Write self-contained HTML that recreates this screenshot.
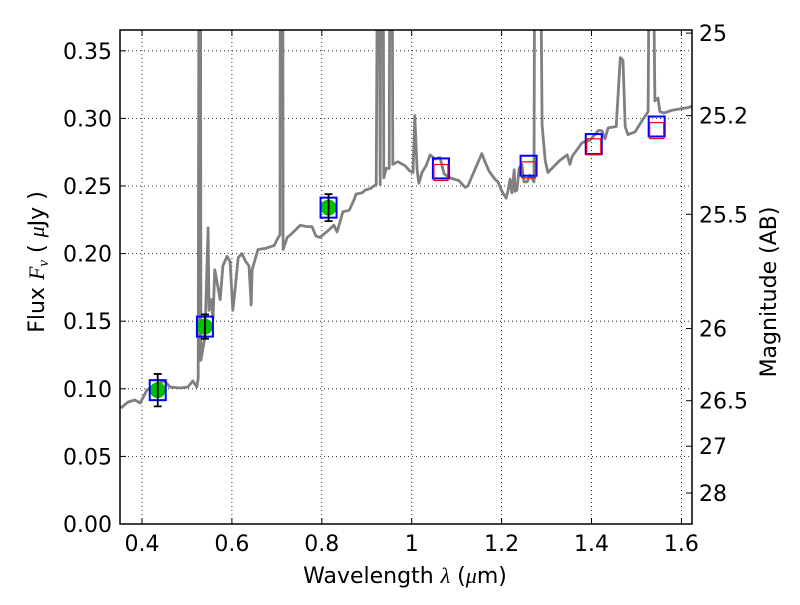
<!DOCTYPE html>
<html><head><meta charset="utf-8"><style>
html,body{margin:0;padding:0;background:#fff;}
svg text{font-family:"DejaVu Sans","Liberation Sans",sans-serif;fill:#000;}
</style></head><body>
<svg id="chart" width="800" height="600" viewBox="0 0 800 600" xmlns="http://www.w3.org/2000/svg">
<defs><clipPath id="clip"><rect x="120" y="30" width="572" height="494"/></clipPath></defs>
<rect x="0" y="0" width="800" height="600" fill="#fff"/>
<g id="grid"></g>
<g id="plot" clip-path="url(#clip)"></g>
<rect x="120" y="30" width="572" height="494" fill="none" stroke="#000" stroke-width="1.5"/>
<g id="axes"></g>
<text x="405" y="583" font-size="22" text-anchor="middle">Wavelength  <tspan font-style="italic" font-family="Liberation Serif,serif">λ</tspan> (<tspan font-style="italic" font-family="Liberation Serif,serif">μ</tspan>m)</text>
<text transform="translate(44,262) rotate(-90)" font-size="22" text-anchor="middle">Flux  <tspan font-style="italic" font-family="Liberation Serif,serif">F<tspan font-size="15" dy="4">ν</tspan></tspan><tspan dy="-4">   (  </tspan><tspan font-style="italic" font-family="Liberation Serif,serif">μ</tspan>Jy )</text>
<text transform="translate(776,292) rotate(-90)" font-size="22" text-anchor="middle">Magnitude (AB)</text>
</svg>
<script>
const specWave=[0.353,0.369,0.384,0.396,0.411,0.433,0.451,0.462,0.485,0.502,0.513,0.522,0.525,0.527,0.530,0.531,0.540,0.547,0.549,0.554,0.558,0.562,0.574,0.580,0.589,0.596,0.602,0.607,0.614,0.622,0.631,0.638,0.643,0.645,0.658,0.676,0.694,0.700,0.707,0.708,0.713,0.714,0.723,0.734,0.752,0.767,0.778,0.787,0.796,0.814,0.827,0.834,0.847,0.861,0.872,0.876,0.890,0.896,0.907,0.921,0.925,0.927,0.930,0.932,0.936,0.938,0.943,0.950,0.952,0.956,0.958,0.969,0.985,0.996,1.003,1.007,1.012,1.016,1.023,1.032,1.041,1.052,1.063,1.072,1.085,1.105,1.119,1.125,1.134,1.143,1.156,1.163,1.172,1.185,1.192,1.201,1.210,1.214,1.219,1.223,1.228,1.230,1.234,1.239,1.245,1.250,1.257,1.263,1.272,1.274,1.285,1.290,1.297,1.303,1.312,1.330,1.346,1.352,1.357,1.379,1.397,1.415,1.423,1.430,1.437,1.455,1.464,1.470,1.475,1.481,1.497,1.510,1.526,1.530,1.535,1.541,1.548,1.552,1.561,1.579,1.597,1.615,1.624];
const specFlux=[0.0858,0.0902,0.0917,0.0895,0.0991,0.1036,0.1058,0.1013,0.1006,0.1013,0.1058,0.1013,0.108,0.5,0.5,0.121,0.138,0.219,0.158,0.166,0.152,0.188,0.166,0.191,0.198,0.194,0.158,0.173,0.197,0.200,0.194,0.191,0.162,0.188,0.203,0.204,0.206,0.210,0.214,0.5,0.5,0.203,0.212,0.215,0.221,0.220,0.220,0.213,0.212,0.217,0.221,0.216,0.231,0.232,0.240,0.244,0.245,0.247,0.248,0.251,0.5,0.5,0.251,0.5,0.5,0.256,0.263,0.263,0.5,0.5,0.266,0.268,0.265,0.261,0.260,0.302,0.262,0.252,0.260,0.265,0.273,0.270,0.271,0.259,0.256,0.254,0.249,0.250,0.257,0.264,0.274,0.268,0.261,0.255,0.253,0.246,0.241,0.246,0.255,0.245,0.262,0.246,0.247,0.263,0.266,0.253,0.253,0.258,0.253,0.5,0.5,0.295,0.269,0.260,0.263,0.269,0.273,0.266,0.272,0.282,0.284,0.291,0.291,0.285,0.293,0.294,0.345,0.343,0.294,0.288,0.290,0.297,0.305,0.5,0.5,0.313,0.315,0.305,0.304,0.306,0.307,0.308,0.309];
const photWave=[0.435,0.54,0.815];
const photFlux=[0.099,0.146,0.234];
const photErr=[0.012,0.009,0.010];
const modelWave=[0.435,0.54,0.815,1.065,1.26,1.405,1.545];
const modelFlux=[0.099,0.146,0.234,0.263,0.265,0.281,0.294];
const redWave=[1.065,1.26,1.405,1.545];
const redFlux=[0.260,0.262,0.279,0.291];
const xTicks=[0.4,0.6,0.8,1,1.2,1.4,1.6];
const xTickLabels=['0.4','0.6','0.8','1','1.2','1.4','1.6'];
const yTicks=[0,0.05,0.1,0.15,0.2,0.25,0.3,0.35];
const yTickLabels=['0.00','0.05','0.10','0.15','0.20','0.25','0.30','0.35'];
const magTicks=[25,25.2,25.5,26,26.5,27,28];
const magTickLabels=['25','25.2','25.5','26','26.5','27','28'];

const NS='http://www.w3.org/2000/svg';
const X=v=>142+(v-0.4)*449.5;
const Y=f=>524-f*1352;
function mk(tag,attrs,parent){const e=document.createElementNS(NS,tag);for(const k in attrs)e.setAttribute(k,attrs[k]);parent.appendChild(e);return e;}
const grid=document.getElementById('grid'),plot=document.getElementById('plot'),axes=document.getElementById('axes');

xTicks.forEach((t,i)=>{
  const x=X(t);
  const g=mk('line',{x1:x,x2:x,y1:30,y2:524,stroke:'#000','stroke-width':0.8,'stroke-dasharray':'1,3'},grid);
  
  
  mk('line',{x1:x,x2:x,y1:524,y2:518,stroke:'#000'},axes);
  mk('line',{x1:x,x2:x,y1:30,y2:36,stroke:'#000'},axes);
  const l=mk('text',{x:x,y:551,'font-size':22,'text-anchor':'middle'},axes);
  l.textContent=xTickLabels[i];
  
  
});
yTicks.forEach((t,i)=>{
  const y=Y(t);
  if(t>0){const g=mk('line',{x1:120,x2:692,y1:y,y2:y,stroke:'#000','stroke-width':0.8,'stroke-dasharray':'1,3'},grid);
  
  }
  mk('line',{x1:120,x2:126,y1:y,y2:y,stroke:'#000'},axes);
  const l=mk('text',{x:112,y:y+8,'font-size':22,'text-anchor':'end'},axes);
  l.textContent=yTickLabels[i];
  
  
});
magTicks.forEach((m,i)=>{
  const y=Y(Math.pow(10,(23.9-m)/2.5));
  mk('line',{x1:692,x2:686,y1:y,y2:y,stroke:'#000'},axes);
  const l=mk('text',{x:699,y:y+8,'font-size':22,'text-anchor':'start'},axes);
  l.textContent=magTickLabels[i];
  
  
});
const pts=specWave.map((w,i)=>X(w).toFixed(1)+','+Y(specFlux[i]).toFixed(1)).join(' ');
const sp=mk('polyline',{points:pts,fill:'none',stroke:'#808080','stroke-width':2.8,'stroke-linejoin':'round'},plot);


photWave.forEach((w,i)=>{
  const c=mk('circle',{cx:X(w),cy:Y(photFlux[i]),r:8,fill:'#00c000',stroke:'none'},plot);
  
  
});
modelWave.forEach((w,i)=>{
  const r=mk('rect',{x:X(w)-8,y:Y(modelFlux[i])-10,width:16,height:20,fill:'none',stroke:'#0000ff','stroke-width':2},plot);
  
  
});
redWave.forEach((w,i)=>{
  const r=mk('rect',{x:X(w)-7,y:Y(redFlux[i])-8,width:14,height:16,fill:'none',stroke:'#ff0000','stroke-width':1.2},plot);
  
  
});
photWave.forEach((w,i)=>{
  const x=X(w),y1=Y(photFlux[i]+photErr[i]),y2=Y(photFlux[i]-photErr[i]);
  const e=mk('path',{d:`M${x},${y1}V${y2}M${x-4},${y1}H${x+4}M${x-4},${y2}H${x+4}`,stroke:'#000','stroke-width':1.8,fill:'none'},plot);
  
  
});
</script>
</body></html>
